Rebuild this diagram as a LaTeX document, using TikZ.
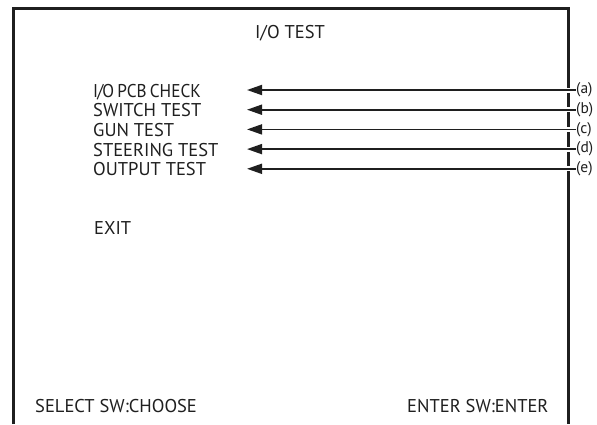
\documentclass[tikz,border=0pt]{standalone}
\usepackage{fontspec}
\setmainfont{PT Sans}
\usetikzlibrary{arrows.meta}

\begin{document}
\begin{tikzpicture}[x=1pt, y=-1pt, line join=miter,
    every node/.style={inner sep=0pt, text=black!88},
    menu/.style={anchor=base west, font=\fontsize{18.5}{18.5}\selectfont},
    tag/.style={anchor=west, font=\fontsize{15.5}{15.5}\selectfont},
    pointer/.style={{Triangle[length=15pt,width=10pt]}-, line width=1.8pt, black!88,
      preaction={draw=white, line width=5pt, arrows=-}}]
    \useasboundingbox (0,0) rectangle (597,424);

    % screen frame, open at the bottom
    \draw[line width=3pt, black!88] (13,424) -- (13,8.5) -- (568,8.5) -- (568,424);

    \node[menu, anchor=base] (title) at (290,38) {I/O TEST};

    \node[menu] (pcb) at (93,97) {\scalebox{0.93}[1]{I\kern-1pt/\kern-1pt O\hspace{3.5pt}PCB\hspace{3.5pt}CHECK}};
    \node[menu] (sw) at (93,116.7) {SWITCH TEST};
    \node[menu] (gun) at (93,136.4) {GUN TEST};
    \node[menu] (steer) at (93,156.1) {STEERING TEST};
    \node[menu] (out) at (93,175.8) {OUTPUT TEST};
    \node[menu] (exit) at (94,234) {EXIT};

    \node[menu] (sel) at (35,412) {SELECT SW:CHOOSE};
    \node[menu] (ent) at (407,412) {ENTER SW:ENTER};

    \node[tag] (la) at (576,90) {(a)};
    \node[tag] (lb) at (576,109.7) {(b)};
    \node[tag] (lc) at (576,129.4) {(c)};
    \node[tag] (ld) at (576,149.1) {(d)};
    \node[tag] (le) at (576,168.8) {(e)};

    \coordinate (ta) at (247,90);
    \coordinate (tb) at (247,109.7);
    \coordinate (tc) at (247,129.4);
    \coordinate (td) at (247,149.1);
    \coordinate (te) at (247,168.8);

    \draw[pointer] (ta) -- (la.west);
    \draw[pointer] (tb) -- (lb.west);
    \draw[pointer] (tc) -- (lc.west);
    \draw[pointer] (td) -- (ld.west);
    \draw[pointer] (te) -- (le.west);

  \end{tikzpicture}
\end{document}
